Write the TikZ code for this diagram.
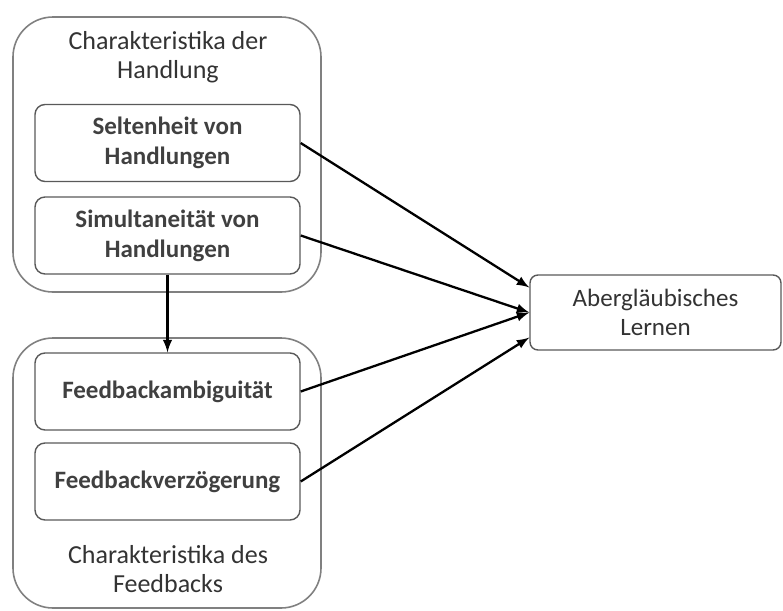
\documentclass[tikz,border=0pt]{standalone}
\usepackage{fontspec}
\setmainfont{Carlito}
\usepackage{tikz}

\begin{document}
\begin{tikzpicture}[x=0.5pt,y=-0.5pt,
    font=\fontsize{13}{14.5}\selectfont,
    grp/.style={draw=black!50,line width=0.8pt,rounded corners=20pt,minimum width=154pt},
    titel/.style={align=center,text=black!80},
    item/.style={draw=black!65,line width=0.7pt,rounded corners=5pt,align=center,
        minimum width=132.5pt,minimum height=38.5pt,text=black!75,
        font=\fontsize{12.5}{15}\selectfont\bfseries},
    ziel/.style={draw=black!65,line width=0.7pt,rounded corners=4pt,align=center,
        minimum width=125.5pt,minimum height=37.5pt,text=black!80,
        font=\fontsize{12.5}{14.5}\selectfont},
    pfeil/.style={-latex,line width=1.15pt}]
    \useasboundingbox (0,0) rectangle (783,611);
    % Gruppen
    \node[grp,minimum height=137.5pt] (hand) at (167,154.5) {};
    \node[grp,minimum height=135pt] (feed) at (167,473) {};
    \node[titel] (handtit) at (168,57) {Charakteristika der\\Handlung};
    \node[titel] (feedtit) at (168,569) {Charakteristika des\\Feedbacks};
    % Faktoren
    \node[item] (selt) at (167.5,143) {Seltenheit von\\Handlungen};
    \node[item] (simu) at (167.5,235.5) {Simultaneität von\\Handlungen};
    \node[item] (ambi) at (167.5,391.5) {Feedbackambiguität};
    \node[item] (verz) at (167.5,481.5) {Feedbackverzögerung};
    \node[ziel] (lern) at (655.5,312.5) {Abergläubisches\\Lernen};
    % Pfeile
    \draw[pfeil] (simu.south) -- (ambi.north);
    \draw[pfeil] (selt.east) -- ([yshift=12.5pt]lern.west);
    \draw[pfeil] (simu.east) -- (lern.west);
    \draw[pfeil] (ambi.east) -- (lern.west);
    \draw[pfeil] (verz.east) -- ([yshift=-12.5pt]lern.west);
\end{tikzpicture}
\end{document}
